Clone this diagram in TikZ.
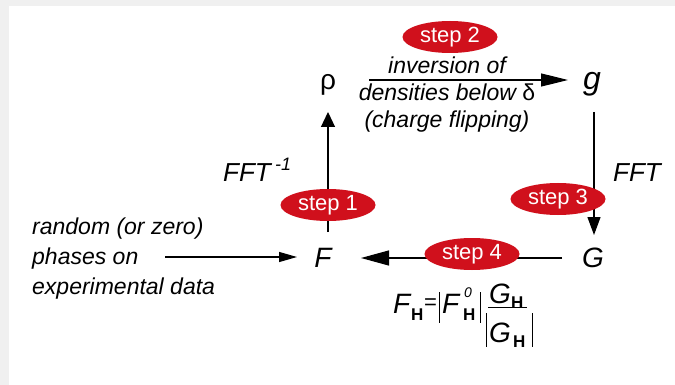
\documentclass[tikz,border=0pt]{standalone}
\usepackage{fontspec}
\setmainfont{Liberation Sans}
\usetikzlibrary{arrows.meta,shapes.geometric}
\definecolor{stepred}{RGB}{208,16,28}
\definecolor{bgray}{RGB}{240,240,240}
\newcommand\fsz[1]{\fontsize{#1}{#1}\selectfont}
\begin{document}
\begin{tikzpicture}[x=1pt,y=-1pt,
  stepbox/.style={ellipse,fill=stepred,minimum width=95pt,minimum height=32pt,inner sep=0pt,text=white,font=\fsz{22}},
  sym/.style={inner sep=0pt,font=\fsz{28}\itshape},
  lbl/.style={inner sep=0pt,font=\fsz{23}\itshape,anchor=base},
  lblw/.style={inner sep=0pt,font=\fsz{23}\itshape,anchor=base west},
  frm/.style={inner sep=0pt,anchor=base west},
  conn/.style={line width=1.2pt},
  barline/.style={line width=1pt},
]
\fill[bgray] (0,0) rectangle (675,385);
\fill[white] (9,6) rectangle (675,385);

% main symbols
\node[sym,font=\fsz{28}] (rho) at (328,85) {ρ};
\node[sym,font=\fsz{32}\itshape] (g) at (592,84) {g};
\node[sym] (F) at (323,258) {F};
\node[sym] (G) at (593,258) {G};

% step 2 label text
\node[lbl] (t1) at (447,74) {inversion of};
\node[lbl] (t2) at (447,101) {densities below {\upshape δ}};
\node[lbl] (t3) at (447,128) {(charge flipping)};

% input text
\node[lblw] (in1) at (32,234) {random (or zero)};
\node[lblw] (in2) at (32,264) {phases on};
\node[lblw] (in3) at (32,294) {experimental data};

% FFT labels
\node[frm,font=\fsz{26}\itshape] (fftinv) at (223,182) {FFT\,\raisebox{11pt}{\fsz{18}-1}};
\node[frm,font=\fsz{26}\itshape] (fft) at (613,182) {FFT};

% connectors
\draw[conn,-{Triangle[length=27pt,width=13pt]}] ([xshift=41pt,yshift=5pt]rho.center) -- ([xshift=-24pt,yshift=4pt]g.center);
\draw[conn,-{Triangle[length=15pt,width=14pt]}] ([xshift=5pt,yshift=26pt]F.center) -- ([yshift=-27pt]rho.center);
\draw[conn,-{Triangle[length=18pt,width=13pt]}] ([xshift=2pt,yshift=-28pt]g.center) -- ([xshift=1pt,yshift=23pt]G.center);
\draw[conn,-{Triangle[length=28pt,width=15pt]}] ([xshift=-31pt]G.center) -- ([xshift=38pt]F.center);
\draw[conn,-{Triangle[length=18pt,width=10pt]}] ([xshift=133pt,yshift=7pt]in2.base west) -- ([xshift=-26pt,yshift=1pt]F.center);

% step ellipses
\node[stepbox] (s1) at (328,205) {step 1};
\node[stepbox] (s2) at (450,37) {step 2};
\node[stepbox] (s3) at (558,199) {step 3};
\node[stepbox] (s4) at (472,254) {step 4};

% formula F_H = |F^0_H| G_H / |G_H|
\node[frm,font=\fsz{28}\itshape] (fa) at (393,313) {F};
\node[frm,font=\fsz{17}\bfseries] (fb) at (411,320) {H};
\node[frm,font=\fsz{22}] (fc) at (424,309) {=};
\draw[barline] (439,292) -- (439,323);
\node[frm,font=\fsz{28}\itshape] (fd) at (442,313) {F};
\node[frm,font=\fsz{14}\itshape] (fe) at (464,297) {0};
\node[frm,font=\fsz{17}\bfseries] (ff) at (463,320) {H};
\draw[barline] (480,292) -- (480,323);
\draw[barline] (488,307) -- (527,307);
\node[frm,font=\fsz{28}\itshape] (fg) at (489,303) {G};
\node[frm,font=\fsz{17}\bfseries] (fh) at (511,308) {H};
\draw[barline] (486,313) -- (486,347);
\node[frm,font=\fsz{28}\itshape] (fi) at (489,342) {G};
\node[frm,font=\fsz{17}\bfseries] (fj) at (513,347) {H};
\draw[barline] (532,313) -- (532,347);
\end{tikzpicture}
\end{document}
